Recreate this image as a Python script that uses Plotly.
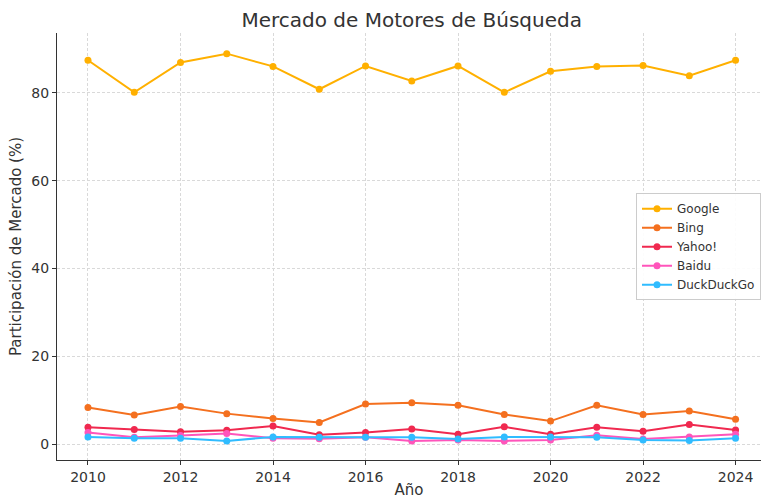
import plotly.graph_objects as go

years = list(range(2010, 2025))
google = [87.4, 80.1, 86.9, 88.9, 86.0, 80.8, 86.1, 82.7, 86.1, 80.1, 84.9, 86.0, 86.2, 83.9, 87.4]
bing = [8.4, 6.7, 8.6, 7.0, 5.9, 5.0, 9.2, 9.5, 8.9, 6.8, 5.3, 8.9, 6.8, 7.6, 5.7]
yahoo = [3.9, 3.4, 2.9, 3.2, 4.2, 2.2, 2.7, 3.5, 2.3, 4.0, 2.3, 3.9, 3.0, 4.5, 3.3]
baidu = [2.7, 1.6, 2.0, 2.5, 1.4, 1.3, 1.6, 0.8, 1.0, 0.8, 1.0, 2.1, 1.2, 1.7, 2.3]
duckduckgo = [1.7, 1.4, 1.4, 0.8, 1.7, 1.6, 1.6, 1.6, 1.2, 1.7, 1.7, 1.6, 1.0, 0.9, 1.4]

series = [
    ("Google", google, "#FFB000"),
    ("Bing", bing, "#F4701F"),
    ("Yahoo!", yahoo, "#F0294F"),
    ("Baidu", baidu, "#FF55BB"),
    ("DuckDuckGo", duckduckgo, "#30BCFF"),
]

fig = go.Figure()
for name, vals, color in series:
    fig.add_trace(go.Scatter(
        x=years, y=vals, name=name, mode="lines+markers",
        line=dict(color=color, width=2),
        marker=dict(color=color, size=7),
    ))

axis_common = dict(
    showline=True, linecolor="#333333", linewidth=1.2,
    ticks="outside", ticklen=4, tickcolor="#333333",
    showgrid=True, gridcolor="#d9d9d9", griddash="3px,2px", gridwidth=1,
    zeroline=False, tickfont=dict(size=14, color="#333333"),
    mirror=False, automargin=False,
)

fig.update_layout(
    width=761, height=499,
    margin=dict(l=57, r=0, t=33, b=39),
    paper_bgcolor="white", plot_bgcolor="white",
    font=dict(family="DejaVu Sans", color="#333333"),
    title=dict(text="Mercado de Motores de Búsqueda", x=0.541, xanchor="center",
               y=0.96, yanchor="middle", font=dict(size=20, color="#333333")),
    xaxis=dict(range=[2009.33, 2024.55], tickvals=list(range(2010, 2025, 2)),
               title=dict(text="Año", font=dict(size=15), standoff=4), **axis_common),
    yaxis=dict(range=[-3.55, 93.6], tickvals=[0, 20, 40, 60, 80],
               title=dict(text="Participación de Mercado (%)", font=dict(size=15), standoff=6),
               **axis_common),
    legend=dict(x=1.0, y=0.625, xanchor="right", yanchor="top",
                bgcolor="rgba(255,255,255,0.9)", bordercolor="#cccccc", borderwidth=1,
                font=dict(size=12, color="#333333"), tracegroupgap=0),
    showlegend=True,
)

fig.write_html("out.html", config={"displayModeBar": False},
               post_script="document.body.style.margin='0';document.body.style.overflow='hidden';")
